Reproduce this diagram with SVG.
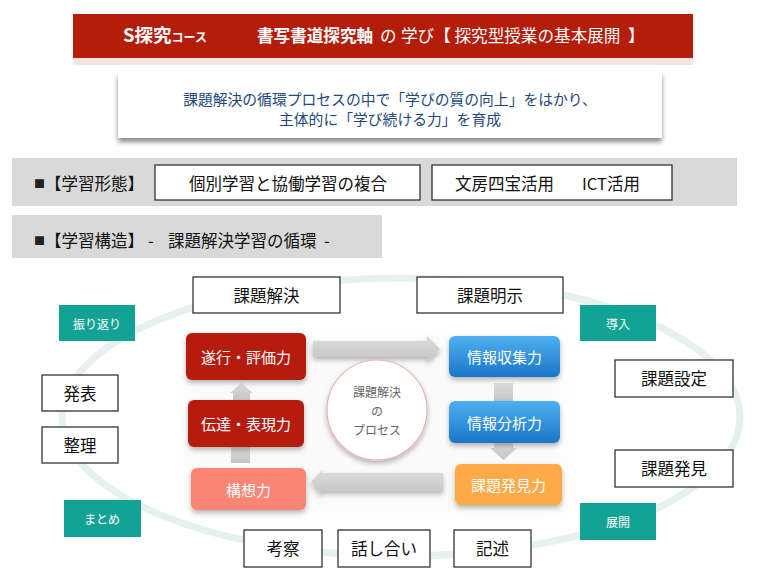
<svg xmlns="http://www.w3.org/2000/svg" width="780" height="585" viewBox="0 0 780 585">
<style>
text{font-family:"Noto Sans CJK JP","Noto Sans",sans-serif;}
.wbox{fill:#fff;stroke:#333;stroke-width:1.3;}
.lbl{font-size:16.5px;fill:#111;text-anchor:middle;dominant-baseline:central;}
.band{font-size:16.5px;fill:#111;dominant-baseline:central;}
.teal{fill:#13a394;}
.tl{font-size:12px;fill:#fff;text-anchor:middle;dominant-baseline:central;}
.nl{font-size:15px;fill:#fff;text-anchor:middle;dominant-baseline:central;}
.arr{fill:url(#ga);}
.tt{fill:#fff;font-size:16.6px;}
</style>
<defs>
<filter id="sh" x="-20%" y="-20%" width="140%" height="160%"><feDropShadow dx="0" dy="3" stdDeviation="2.5" flood-color="#000" flood-opacity="0.28"/></filter>
<filter id="sh2" x="-10%" y="-20%" width="120%" height="160%"><feDropShadow dx="0" dy="4" stdDeviation="2.5" flood-color="#000" flood-opacity="0.45"/></filter>
<filter id="blur"><feGaussianBlur stdDeviation="10"/></filter>
<linearGradient id="gb" x1="0" y1="0" x2="0" y2="1"><stop offset="0" stop-color="#4fb0f0"/><stop offset="1" stop-color="#1a76c9"/></linearGradient>
<linearGradient id="ga" x1="0" y1="0" x2="0" y2="1"><stop offset="0" stop-color="#dcdcdc"/><stop offset="1" stop-color="#c4c4c4"/></linearGradient>
</defs>
<rect width="780" height="585" fill="#fff"/>

<g id="title">
<rect x="73" y="56" width="620" height="9" fill="#f7e4e0"/>
<rect x="73" y="14" width="620" height="44" fill="#b51d0b"/>
<text x="123" y="42" fill="#fff" font-size="18.5" font-weight="bold">S探究<tspan font-size="12">コース</tspan></text>
<text class="tt" x="257" y="42" font-weight="bold">書写書道探究軸</text>
<text class="tt" x="380" y="42">の</text>
<text class="tt" x="401" y="42">学び【 探究型授業の基本展開</text>
<text class="tt" x="628" y="42">】</text>
</g>

<g id="subtitle">
<rect x="118" y="72" width="544" height="66" fill="#fff" filter="url(#sh2)"/>
<text x="390" y="98" font-size="14.8" fill="#24487a" text-anchor="middle" dominant-baseline="central">課題解決の循環プロセスの中で「学びの質の向上」をはかり、</text>
<text x="390" y="118" font-size="14.8" fill="#24487a" text-anchor="middle" dominant-baseline="central">主体的に「学び続ける力」を育成</text>
</g>

<g id="band1">
<rect x="12" y="158" width="725" height="48" fill="#d9d9d9"/>
<text class="band" x="34" y="183"><tspan font-size="11" fill="#222">■</tspan>【学習形態】</text>
<rect class="wbox" x="155" y="165" width="265" height="35"/>
<text class="lbl" x="288" y="183">個別学習と協働学習の複合</text>
<rect class="wbox" x="432" y="165" width="240" height="35"/>
<text class="band" x="455" y="183">文房四宝活用</text>
<text class="band" x="582" y="183">ICT活用</text>
</g>

<g id="band2">
<rect x="12" y="215" width="370" height="43" fill="#d9d9d9"/>
<text class="band" x="34" y="240"><tspan font-size="11" fill="#222">■</tspan>【学習構造】</text>
<text class="band" x="148" y="240">-</text>
<text class="band" x="168" y="240">課題解決学習の循環</text>
<text class="band" x="324" y="240">-</text>
</g>

<g id="ring">
<rect x="185" y="335" width="380" height="180" fill="#f7f7f7" filter="url(#blur)" opacity="0.6"/>
<ellipse cx="401" cy="417" rx="339" ry="139" fill="none" stroke="#e4f1ef" stroke-width="7"/>
</g>

<g id="connectors">
<path class="arr" d="M313 341 H427 V336 L440 349 L427 362 V357 H313 Z" filter="url(#sh)"/>
<path class="arr" d="M233 400 V393 H230 L241.5 383 L253 393 H250 V400 Z"/>
<path class="arr" d="M231 447 H250 V463 H231 Z"/>
<path class="arr" d="M494 383 H513 V401 H494 Z"/>
<path class="arr" d="M494 443 H513 V448 H517 L503.5 460 L490 448 H494 Z"/>
<path class="arr" d="M443 473 V491 H322 V495 L311 482 L322 470 V473 Z" filter="url(#sh)"/>
</g>

<g id="kadai-kaiketsu"><rect class="wbox" x="193" y="277" width="147" height="36"/><text class="lbl" x="266.5" y="295">課題解決</text></g>
<g id="kadai-meiji"><rect class="wbox" x="417" y="277" width="146" height="36"/><text class="lbl" x="490" y="295">課題明示</text></g>
<g id="furikaeri"><rect class="teal" x="59" y="305" width="76" height="36"/><text class="tl" x="97" y="323">振り返り</text></g>
<g id="dounyu"><rect class="teal" x="580" y="305" width="76" height="36"/><text class="tl" x="618" y="323">導入</text></g>
<g id="happyou"><rect class="wbox" x="42" y="375" width="76" height="36"/><text class="lbl" x="80" y="393">発表</text></g>
<g id="seiri"><rect class="wbox" x="42" y="427" width="76" height="36"/><text class="lbl" x="80" y="445">整理</text></g>
<g id="kadai-settei"><rect class="wbox" x="615" y="360" width="118" height="37"/><text class="lbl" x="674" y="378">課題設定</text></g>
<g id="kadai-hakken"><rect class="wbox" x="615" y="450" width="118" height="37"/><text class="lbl" x="674" y="468">課題発見</text></g>
<g id="matome"><rect class="teal" x="64" y="500" width="77" height="37"/><text class="tl" x="102" y="518">まとめ</text></g>
<g id="tenkai"><rect class="teal" x="580" y="503" width="76" height="37"/><text class="tl" x="618" y="521">展開</text></g>
<g id="kousatsu"><rect class="wbox" x="244" y="530" width="78" height="37"/><text class="lbl" x="283" y="548">考察</text></g>
<g id="hanashiai"><rect class="wbox" x="338" y="530" width="92" height="37"/><text class="lbl" x="384" y="548">話し合い</text></g>
<g id="kijutsu"><rect class="wbox" x="454" y="530" width="77" height="37"/><text class="lbl" x="492.5" y="548">記述</text></g>

<g id="suikou"><rect x="186" y="333" width="120" height="47" rx="6" fill="#b61c0b" filter="url(#sh)"/><text class="nl" x="246" y="356">遂行・評価力</text></g>
<g id="dentatsu"><rect x="188" y="400" width="116" height="47" rx="6" fill="#b61c0b" filter="url(#sh)"/><text class="nl" x="246" y="423">伝達・表現力</text></g>
<g id="kousou"><rect x="191" y="468" width="115" height="42" rx="6" fill="#fb8575" filter="url(#sh)"/><text class="nl" x="248.5" y="489">構想力</text></g>
<g id="shushu"><rect x="449" y="336" width="111" height="41" rx="6" fill="url(#gb)" filter="url(#sh)"/><text class="nl" x="504.5" y="356">情報収集力</text></g>
<g id="bunseki"><rect x="449" y="401" width="111" height="42" rx="6" fill="url(#gb)" filter="url(#sh)"/><text class="nl" x="504.5" y="422">情報分析力</text></g>
<g id="hakken"><rect x="455" y="464" width="107" height="41" rx="6" fill="#ffa94a" filter="url(#sh)"/><text class="nl" x="508.5" y="484">課題発見力</text></g>

<g id="process">
<circle cx="377" cy="410" r="50" fill="#fff" stroke="#e9b3ab" stroke-width="1.2" filter="url(#sh)"/>
<text x="377" y="391" font-size="12" fill="#666" text-anchor="middle" dominant-baseline="central">課題解決</text>
<text x="377" y="410" font-size="12" fill="#666" text-anchor="middle" dominant-baseline="central">の</text>
<text x="377" y="429" font-size="12" fill="#666" text-anchor="middle" dominant-baseline="central">プロセス</text>
</g>
</svg>
